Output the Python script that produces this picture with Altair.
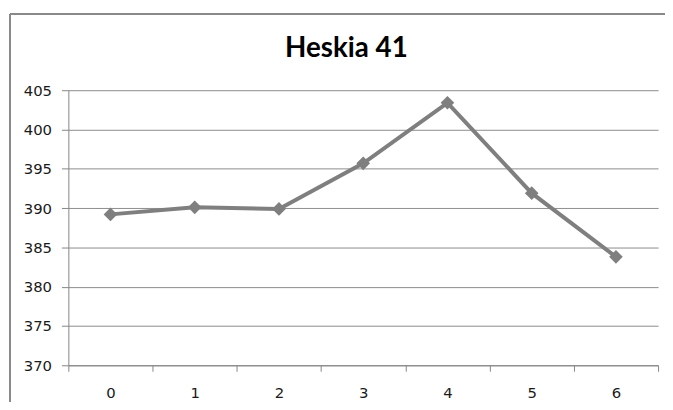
import altair as alt
import pandas as pd

categories = ["0", "1", "2", "3", "4", "5", "6"]
values = [389.2, 390.1, 389.9, 395.7, 403.4, 391.9, 383.8]
y_ticks = [370, 375, 380, 385, 390, 395, 400, 405]

df = pd.DataFrame({"x": categories, "y": values})

x_enc = alt.X("x:O", sort=categories, title=None,
              scale=alt.Scale(paddingInner=0, paddingOuter=0),
              axis=alt.Axis(tickBand="extent", labelAngle=0, grid=False,
                            domainColor="#868686", tickColor="#868686",
                            tickSize=6, labelPadding=15, labelFont="Verdana, DejaVu Sans",
                            labelFontSize=15, labelColor="#1a1a1a"))
y_enc = alt.Y("y:Q", title=None,
              scale=alt.Scale(domain=[370, 405], nice=False, zero=False),
              axis=alt.Axis(values=y_ticks, grid=True, gridColor="#8c8c8c",
                            domainColor="#868686", tickColor="#868686",
                            tickSize=7, labelPadding=10, labelFont="Verdana, DejaVu Sans",
                            labelFontSize=15, labelColor="#1a1a1a"))

frame = alt.Chart(df).mark_rect(fill=None, stroke="#8a8a8a", strokeWidth=1).encode(
    x=alt.value(-59), x2=alt.value(700), y=alt.value(-77), y2=alt.value(400)
)

line = alt.Chart(df).mark_line(color="#7f7f7f", strokeWidth=4).encode(x=x_enc, y=y_enc)
pts = alt.Chart(df).mark_point(shape="diamond", filled=True, size=190, color="#7f7f7f", opacity=1).encode(x=x_enc, y=y_enc)

chart = alt.layer(frame, line, pts).properties(
    width=596, height=278,
    title=alt.TitleParams("Heskia 41", font="Lato", fontSize=28, fontWeight="bold",
                          color="#000000", dx=-17, offset=-50),
    autosize=alt.AutoSizeParams(type="none"),
    padding={"left": 61, "top": 81, "right": 7, "bottom": 35},
).configure_view(stroke=None)

chart.save("out.html", embed_options={"renderer": "svg", "actions": False})
